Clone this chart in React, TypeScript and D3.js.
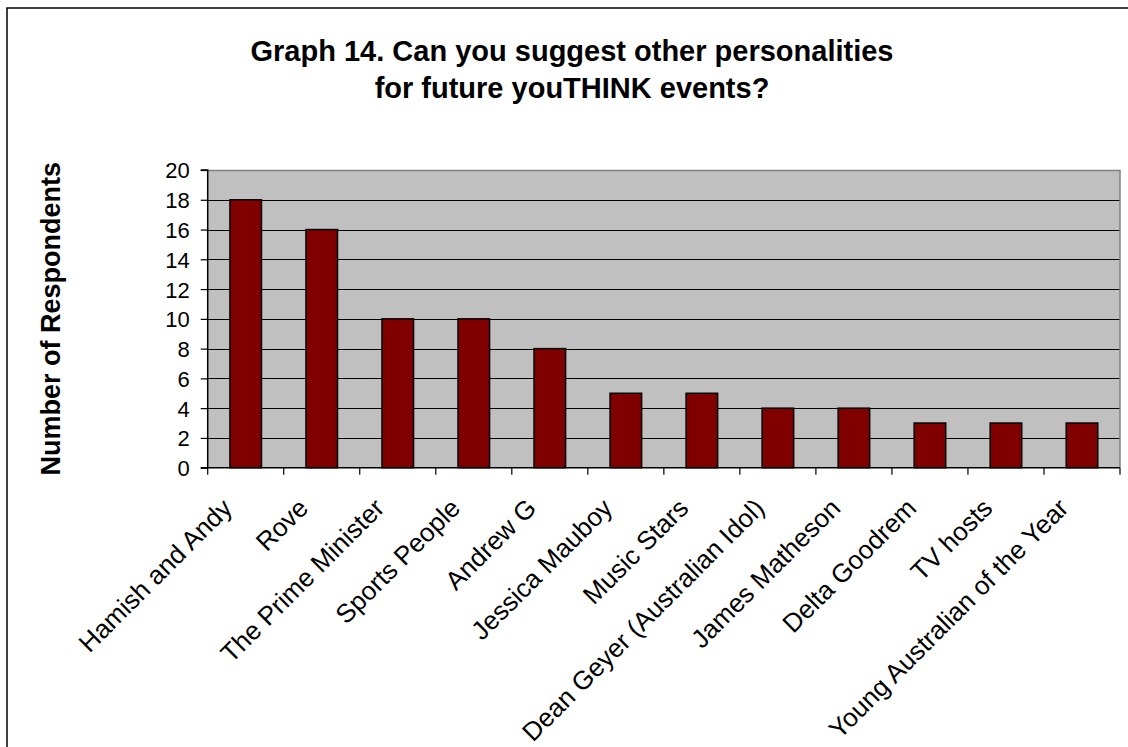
import React, { useEffect, useRef } from "react";
import * as d3 from "d3";

const categories = [
  "Hamish and Andy",
  "Rove",
  "The Prime Minister",
  "Sports People",
  "Andrew G",
  "Jessica Mauboy",
  "Music Stars",
  "Dean Geyer (Australian Idol)",
  "James Matheson",
  "Delta Goodrem",
  "TV hosts",
  "Young Australian of the Year",
];
const values = [18, 16, 10, 10, 8, 5, 5, 4, 4, 3, 3, 3];
const yTicks = [0, 2, 4, 6, 8, 10, 12, 14, 16, 18, 20];
const titleLines = [
  "Graph 14. Can you suggest other personalities",
  "for future youTHINK events?",
];
const yLabel = "Number of Respondents";

const W = 1128;
const H = 747;
const plot = { left: 207.7, right: 1120, top: 170, bottom: 467.7 };
const FONT = "Arial, 'Liberation Sans', Helvetica, sans-serif";

export default function App() {
  const ref = useRef<SVGSVGElement>(null);
  useEffect(() => {
    const svg = d3.select(ref.current);
    svg.selectAll("*").remove();

    svg.append("rect").attr("x", 0).attr("y", 0).attr("width", W).attr("height", H).attr("fill", "#fff");
    svg
      .append("rect")
      .attr("x", 7)
      .attr("y", 8)
      .attr("width", W + 20)
      .attr("height", H + 20)
      .attr("fill", "none")
      .attr("stroke", "#000")
      .attr("stroke-width", 1.5);

    const x = d3.scaleBand<string>().domain(categories).range([plot.left, plot.right]).paddingInner(0).paddingOuter(0);
    const y = d3.scaleLinear().domain([0, 20]).range([plot.bottom, plot.top]);

    svg
      .append("rect")
      .attr("x", plot.left)
      .attr("y", plot.top)
      .attr("width", plot.right - plot.left)
      .attr("height", plot.bottom - plot.top)
      .attr("fill", "#C0C0C0");

    svg
      .append("g")
      .selectAll("line")
      .data(yTicks.filter((t) => t > 0 && t < 20))
      .join("line")
      .attr("x1", plot.left)
      .attr("x2", plot.right)
      .attr("y1", (d) => Math.round(y(d)) + 0.5)
      .attr("y2", (d) => Math.round(y(d)) + 0.5)
      .attr("stroke", "#000")
      .attr("stroke-width", 1);

    svg
      .append("path")
      .attr("d", `M${plot.left},${plot.top + 0.5}H${plot.right}V${plot.bottom}`)
      .attr("fill", "none")
      .attr("stroke", "#808080")
      .attr("stroke-width", 1.5);

    const bw = x.bandwidth() * 0.415;
    svg
      .append("g")
      .selectAll("rect")
      .data(values)
      .join("rect")
      .attr("x", (d, i) => (x(categories[i]) as number) + x.bandwidth() / 2 - bw / 2)
      .attr("y", (d) => y(d))
      .attr("width", bw)
      .attr("height", (d) => y(0) - y(d))
      .attr("fill", "#800000")
      .attr("stroke", "#000")
      .attr("stroke-width", 1.5);

    const yAxis = d3
      .axisLeft(y)
      .tickValues(yTicks)
      .tickSize(7)
      .tickPadding(11)
      .tickFormat((d) => String(d));
    const gy = svg.append("g").attr("transform", `translate(${plot.left},0)`).call(yAxis);
    gy.select(".domain").attr("stroke", "#000").attr("stroke-width", 1.5).attr("d", `M-7,${plot.top}H0V${plot.bottom}H-7`);
    gy.selectAll(".tick line").attr("stroke", "#000").attr("stroke-width", 1.2);
    gy.selectAll(".tick text")
      .attr("font-family", FONT)
      .attr("font-size", 22)
      .attr("fill", "#000")
      .attr("dy", "0.36em");

    const boundaries = categories.map((c) => x(c) as number).concat([plot.right]);
    svg
      .append("line")
      .attr("x1", plot.left)
      .attr("x2", plot.right)
      .attr("y1", plot.bottom)
      .attr("y2", plot.bottom)
      .attr("stroke", "#000")
      .attr("stroke-width", 1.5);
    svg
      .append("g")
      .selectAll("line")
      .data(boundaries)
      .join("line")
      .attr("x1", (d) => d)
      .attr("x2", (d) => d)
      .attr("y1", plot.bottom)
      .attr("y2", plot.bottom + 7)
      .attr("stroke", "#000")
      .attr("stroke-width", 1.2);

    svg
      .append("g")
      .selectAll("text")
      .data(categories)
      .join("text")
      .attr("transform", (d) => {
        const cx = (x(d) as number) + x.bandwidth() / 2 - 12;
        const cy = plot.bottom + 42;
        return `translate(${cx},${cy}) rotate(-45)`;
      })
      .attr("text-anchor", "end")
      .attr("font-family", FONT)
      .attr("font-size", 26)
      .attr("fill", "#000")
      .text((d) => d);

    svg
      .append("g")
      .selectAll("text")
      .data(titleLines)
      .join("text")
      .attr("x", 572)
      .attr("y", (d, i) => 61 + i * 37)
      .attr("text-anchor", "middle")
      .attr("font-family", FONT)
      .attr("font-size", 29)
      .attr("font-weight", "bold")
      .attr("fill", "#000")
      .text((d) => d);

    svg
      .append("text")
      .attr("transform", `translate(60,${(plot.top + plot.bottom) / 2}) rotate(-90)`)
      .attr("text-anchor", "middle")
      .attr("font-family", FONT)
      .attr("font-size", 27)
      .attr("font-weight", "bold")
      .attr("fill", "#000")
      .text(yLabel);
  }, []);

  return (
    <svg
      ref={ref}
      width={W}
      height={H}
      style={{ position: "absolute", left: 0, top: 0, display: "block" }}
    />
  );
}
